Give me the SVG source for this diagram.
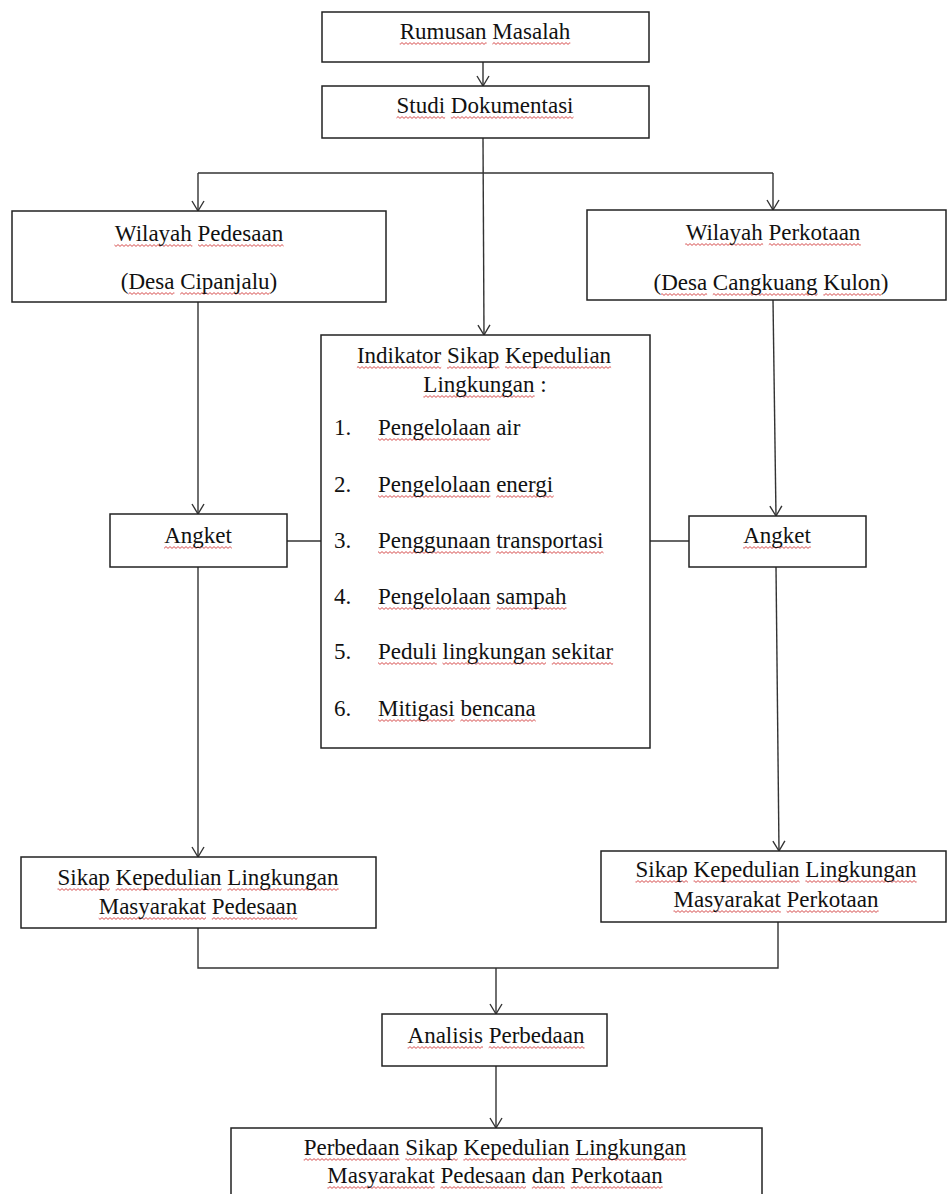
<svg xmlns="http://www.w3.org/2000/svg" width="948" height="1194" viewBox="0 0 948 1194">
<defs>
<style>
.box{fill:#fff;stroke:#222;stroke-width:1.5}
.t{font-family:"Liberation Serif","Times New Roman",serif;font-size:23px;fill:#111}
.c{text-anchor:middle}
.ln{fill:none;stroke:#333;stroke-width:1.4}
.u{fill:url(#wave)}
</style>
<pattern id="wave" patternUnits="userSpaceOnUse" x="0" y="0" width="4" height="3">
<path d="M0,2.4 L2,0.6 L4,2.4" fill="none" stroke="#d23c3c" stroke-width="0.9"/>
</pattern>
<marker id="ah" markerUnits="userSpaceOnUse" markerWidth="16" markerHeight="16" refX="12" refY="8" orient="auto">
<path d="M2,2 L12,8 L2,14" fill="none" stroke="#333" stroke-width="1.4"/>
</marker>
</defs>
<rect width="948" height="1194" fill="#fff"/>

<g id="connectors">
<line class="ln" x1="483" y1="62" x2="483" y2="86" marker-end="url(#ah)"/>
<line class="ln" x1="483" y1="138" x2="484" y2="335" marker-end="url(#ah)"/>
<line class="ln" x1="198" y1="173" x2="773" y2="173"/>
<line class="ln" x1="198" y1="173" x2="198" y2="211" marker-end="url(#ah)"/>
<line class="ln" x1="773" y1="173" x2="773" y2="210" marker-end="url(#ah)"/>
<line class="ln" x1="198" y1="302" x2="198" y2="514" marker-end="url(#ah)"/>
<line class="ln" x1="773" y1="300" x2="776" y2="516" marker-end="url(#ah)"/>
<line class="ln" x1="287" y1="541" x2="321" y2="541"/>
<line class="ln" x1="650" y1="541" x2="689" y2="541"/>
<line class="ln" x1="198" y1="567" x2="198" y2="857" marker-end="url(#ah)"/>
<line class="ln" x1="776" y1="567" x2="779" y2="851" marker-end="url(#ah)"/>
<polyline class="ln" points="198,928 198,968 778,968 778,922"/>
<line class="ln" x1="496" y1="968" x2="496" y2="1014" marker-end="url(#ah)"/>
<line class="ln" x1="496" y1="1066" x2="496" y2="1128" marker-end="url(#ah)"/>
</g>

<g id="rumusan">
<rect class="box" x="322" y="12" width="327" height="50"/>
<rect class="u" x="399.7" y="0" width="86.9" height="3" transform="translate(0,42)"/>
<rect class="u" x="492.4" y="0" width="77.9" height="3" transform="translate(0,42)"/>
<text class="t c" x="485" y="39">Rumusan Masalah</text>
</g>

<g id="studi">
<rect class="box" x="322" y="86" width="327" height="52"/>
<rect class="u" x="396.5" y="0" width="48.6" height="3" transform="translate(0,116)"/>
<rect class="u" x="450.8" y="0" width="122.7" height="3" transform="translate(0,116)"/>
<text class="t c" x="485" y="113">Studi Dokumentasi</text>
</g>

<g id="pedesaan">
<rect class="box" x="12" y="211" width="374" height="91"/>
<rect class="u" x="114.4" y="0" width="77.9" height="3" transform="translate(0,244)"/>
<rect class="u" x="198" y="0" width="85.6" height="3" transform="translate(0,244)"/>
<rect class="u" x="128.4" y="0" width="46" height="3" transform="translate(0,292)"/>
<rect class="u" x="180.2" y="0" width="89.4" height="3" transform="translate(0,292)"/>
<text class="t c" x="199" y="241">Wilayah Pedesaan</text>
<text class="t c" x="199" y="289">(Desa Cipanjalu)</text>
</g>

<g id="perkotaan">
<rect class="box" x="587" y="210" width="359" height="90"/>
<rect class="u" x="685.2" y="0" width="77.9" height="3" transform="translate(0,243)"/>
<rect class="u" x="768.8" y="0" width="92" height="3" transform="translate(0,243)"/>
<rect class="u" x="661.1" y="0" width="46" height="3" transform="translate(0,293)"/>
<rect class="u" x="712.8" y="0" width="104.8" height="3" transform="translate(0,293)"/>
<rect class="u" x="823.4" y="0" width="57.5" height="3" transform="translate(0,293)"/>
<text class="t c" x="773" y="240">Wilayah Perkotaan</text>
<text class="t c" x="771" y="290">(Desa Cangkuang Kulon)</text>
</g>

<g id="indikator">
<rect class="box" x="321" y="335" width="329" height="413"/>
<rect class="u" x="356.9" y="0" width="84.3" height="3" transform="translate(0,366)"/>
<rect class="u" x="447" y="0" width="52.4" height="3" transform="translate(0,366)"/>
<rect class="u" x="505.1" y="0" width="106" height="3" transform="translate(0,366)"/>
<rect class="u" x="423.4" y="0" width="111.2" height="3" transform="translate(0,395)"/>
<rect class="u" x="378" y="0" width="112.4" height="3" transform="translate(0,438)"/>
<rect class="u" x="378" y="0" width="112.4" height="3" transform="translate(0,495)"/>
<rect class="u" x="496.2" y="0" width="57.5" height="3" transform="translate(0,495)"/>
<rect class="u" x="378" y="0" width="112.4" height="3" transform="translate(0,551)"/>
<rect class="u" x="496.2" y="0" width="107.3" height="3" transform="translate(0,551)"/>
<rect class="u" x="378" y="0" width="112.4" height="3" transform="translate(0,607)"/>
<rect class="u" x="496.2" y="0" width="70.3" height="3" transform="translate(0,607)"/>
<rect class="u" x="378" y="0" width="58.8" height="3" transform="translate(0,662)"/>
<rect class="u" x="442.5" y="0" width="103.5" height="3" transform="translate(0,662)"/>
<rect class="u" x="551.8" y="0" width="61.3" height="3" transform="translate(0,662)"/>
<rect class="u" x="378" y="0" width="76.7" height="3" transform="translate(0,719)"/>
<rect class="u" x="460.4" y="0" width="75.3" height="3" transform="translate(0,719)"/>
<text class="t c" x="484" y="363">Indikator Sikap Kepedulian</text>
<text class="t c" x="485" y="392">Lingkungan :</text>
<text class="t" x="334" y="435">1.</text>
<text class="t" x="378" y="435">Pengelolaan air</text>
<text class="t" x="334" y="492">2.</text>
<text class="t" x="378" y="492">Pengelolaan energi</text>
<text class="t" x="334" y="548">3.</text>
<text class="t" x="378" y="548">Penggunaan transportasi</text>
<text class="t" x="334" y="604">4.</text>
<text class="t" x="378" y="604">Pengelolaan sampah</text>
<text class="t" x="334" y="659">5.</text>
<text class="t" x="378" y="659">Peduli lingkungan sekitar</text>
<text class="t" x="334" y="716">6.</text>
<text class="t" x="378" y="716">Mitigasi bencana</text>
</g>

<g id="angket-kiri">
<rect class="box" x="110" y="514" width="177" height="53"/>
<rect class="u" x="164.1" y="0" width="67.7" height="3" transform="translate(0,546)"/>
<text class="t c" x="198" y="543">Angket</text>
</g>

<g id="angket-kanan">
<rect class="box" x="689" y="516" width="177" height="51"/>
<rect class="u" x="743.1" y="0" width="67.7" height="3" transform="translate(0,546)"/>
<text class="t c" x="777" y="543">Angket</text>
</g>

<g id="sikap-pedesaan">
<rect class="box" x="21" y="857" width="355" height="71"/>
<rect class="u" x="57.5" y="0" width="52.4" height="3" transform="translate(0,888)"/>
<rect class="u" x="115.6" y="0" width="106" height="3" transform="translate(0,888)"/>
<rect class="u" x="227.4" y="0" width="111.2" height="3" transform="translate(0,888)"/>
<rect class="u" x="98.7" y="0" width="107.3" height="3" transform="translate(0,917)"/>
<rect class="u" x="211.8" y="0" width="85.6" height="3" transform="translate(0,917)"/>
<text class="t c" x="198" y="885">Sikap Kepedulian Lingkungan</text>
<text class="t c" x="198" y="914">Masyarakat Pedesaan</text>
</g>

<g id="sikap-perkotaan">
<rect class="box" x="601" y="851" width="345" height="71"/>
<rect class="u" x="635.5" y="0" width="52.4" height="3" transform="translate(0,880)"/>
<rect class="u" x="693.6" y="0" width="106" height="3" transform="translate(0,880)"/>
<rect class="u" x="805.4" y="0" width="111.2" height="3" transform="translate(0,880)"/>
<rect class="u" x="673.5" y="0" width="107.3" height="3" transform="translate(0,910)"/>
<rect class="u" x="786.6" y="0" width="92" height="3" transform="translate(0,910)"/>
<text class="t c" x="776" y="877">Sikap Kepedulian Lingkungan</text>
<text class="t c" x="776" y="907">Masyarakat Perkotaan</text>
</g>

<g id="analisis">
<rect class="box" x="382" y="1014" width="225" height="52"/>
<rect class="u" x="407.6" y="0" width="75.4" height="3" transform="translate(0,1046)"/>
<rect class="u" x="488.7" y="0" width="95.8" height="3" transform="translate(0,1046)"/>
<text class="t c" x="496" y="1043">Analisis Perbedaan</text>
</g>

<g id="perbedaan">
<rect class="box" x="231" y="1128" width="531" height="90"/>
<rect class="u" x="303.7" y="0" width="95.8" height="3" transform="translate(0,1158)"/>
<rect class="u" x="405.3" y="0" width="52.4" height="3" transform="translate(0,1158)"/>
<rect class="u" x="463.4" y="0" width="106" height="3" transform="translate(0,1158)"/>
<rect class="u" x="575.2" y="0" width="111.2" height="3" transform="translate(0,1158)"/>
<rect class="u" x="327.4" y="0" width="107.3" height="3" transform="translate(0,1186)"/>
<rect class="u" x="440.4" y="0" width="85.6" height="3" transform="translate(0,1186)"/>
<rect class="u" x="531.8" y="0" width="33.2" height="3" transform="translate(0,1186)"/>
<rect class="u" x="570.7" y="0" width="92" height="3" transform="translate(0,1186)"/>
<text class="t c" x="495" y="1155">Perbedaan Sikap Kepedulian Lingkungan</text>
<text class="t c" x="495" y="1183">Masyarakat Pedesaan dan Perkotaan</text>
</g>
</svg>
